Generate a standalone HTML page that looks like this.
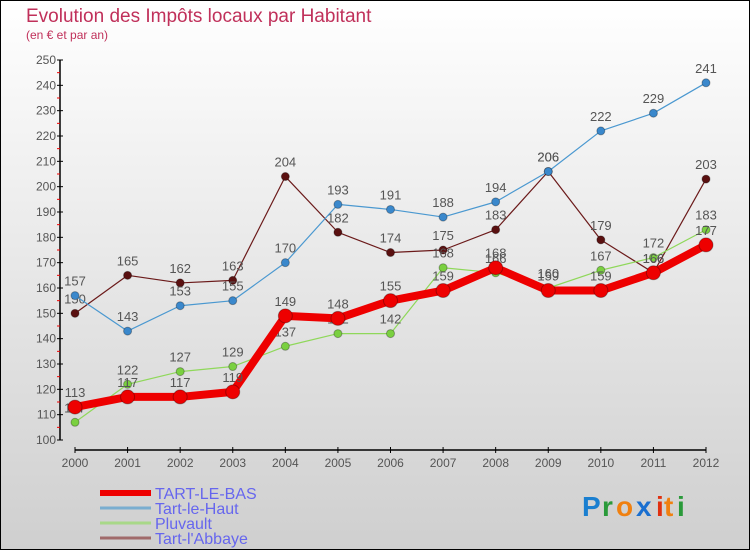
<!DOCTYPE html>
<html><head><meta charset="utf-8"><style>
body{margin:0}
#c{width:750px;height:550px;position:relative;box-sizing:border-box;border:1px solid #000;background:linear-gradient(#ffffff,#cfcfcf);overflow:hidden;font-family:"Liberation Sans",sans-serif}
</style></head><body>
<div id="c">
<svg id="s" width="750" height="550" style="position:absolute;left:-1px;top:-1px" font-family="Liberation Sans, sans-serif">
<text x="26" y="22" font-size="19" fill="#c0305a">Evolution des Impôts locaux par Habitant</text>
<text x="26" y="39" font-size="12" fill="#c0305a">(en € et par an)</text>
<g id="axes"></g><g id="series"></g><g id="legend"></g>
<g font-size="28" font-weight="bold">
<text x="582" y="516" fill="#1a7fd0">P</text><text x="602" y="516" fill="#2a9a3a">r</text><text x="616" y="516" fill="#f08010">o</text><text x="636" y="516" fill="#1a6fd0">x</text><text x="656" y="516" fill="#e03010">i</text><text x="664" y="516" fill="#f08010">t</text><text x="677" y="516" fill="#2a9a3a">i</text>
</g>
</svg>
</div>
<script>
const years=[2000,2001,2002,2003,2004,2005,2006,2007,2008,2009,2010,2011,2012];
const yTicks=[100,110,120,130,140,150,160,170,180,190,200,210,220,230,240,250];
const seriesNames=["TART-LE-BAS","Tart-le-Haut","Pluvault","Tart-l'Abbaye"];
const tartLeBas=[113,117,117,119,149,148,155,159,168,159,159,166,177];
const tartLeHaut=[157,143,153,155,170,193,191,188,194,206,222,229,241];
const pluvault=[107,122,127,129,137,142,142,168,166,160,167,172,183];
const tartAbbaye=[150,165,162,163,204,182,174,175,183,206,179,166,203];
const NS="http://www.w3.org/2000/svg";
function X(i){return 75+i*(706-75)/(years.length-1);}
function Y(v){return 440-(v-100)*(380/150);}
function mk(tag,attrs,parent){const e=document.createElementNS(NS,tag);for(const k in attrs)e.setAttribute(k,attrs[k]);parent.appendChild(e);return e;}
const ax=document.getElementById('axes');
const yl=mk('line',{x1:60,y1:Y(250),x2:60,y2:440,stroke:'#000','stroke-width':1.5},ax);


for(let v=105;v<250;v+=10){mk('line',{x1:57,x2:60,y1:Y(v),y2:Y(v),stroke:'#e00','stroke-width':1},ax);}
yTicks.forEach(v=>{mk('line',{x1:57,x2:63,y1:Y(v),y2:Y(v),stroke:'#000'},ax);
const t=mk('text',{x:56,y:Y(v)+4,'font-size':12,'text-anchor':'end',fill:'#555'},ax);t.textContent=v;

});
const xl=mk('line',{x1:X(0),y1:450,x2:X(12),y2:450,stroke:'#000','stroke-width':1.5},ax);


years.forEach((y,i)=>{mk('line',{x1:X(i),x2:X(i),y1:447,y2:453,stroke:'#000'},ax);
const t=mk('text',{x:X(i),y:467,'font-size':12,'text-anchor':'middle',fill:'#555'},ax);t.textContent=y;

});
const sg=document.getElementById('series');
const defs=[[tartAbbaye,'#6b1a1a',1.2,4,'tart-l-abbaye'],[pluvault,'#8fd85a',1.2,4,'pluvault'],[tartLeHaut,'#4a98d0',1.2,4,'tart-le-haut'],[tartLeBas,'#ee0000',8,7,'tart-le-bas']];
const ptFill={'tart-l-abbaye':'#5a1010','pluvault':'#7ad040','tart-le-haut':'#3a88cc','tart-le-bas':'#ee0000'};
defs.forEach(([d,c,w,r,n])=>{
const g=mk('g',{},sg);


const pl=mk('polyline',{points:d.map((v,i)=>X(i)+','+Y(v)).join(' '),fill:'none',stroke:c,'stroke-width':w,'stroke-linejoin':'round'},g);


d.forEach((v,i)=>{const p=mk('circle',{cx:X(i),cy:Y(v),r:r,fill:ptFill[n],stroke:'rgba(0,0,0,0.3)','stroke-width':1},g);


const t=mk('text',{x:X(i),y:Y(v)-10,'font-size':13,'text-anchor':'middle',fill:'#555'},g);t.textContent=v;

});
});
const lg=document.getElementById('legend');
const lc=[['#ee0000',6],['#7aaed0',3],['#a8d888',3],['#a06a6a',3]];
seriesNames.forEach((nm,i)=>{const y=493+i*15;
const l=mk('line',{x1:100,x2:151,y1:y,y2:y,stroke:lc[i][0],'stroke-width':lc[i][1]},lg);


const t=mk('text',{x:155,y:y+6,'font-size':16,fill:'#6666ee'},lg);t.textContent=nm;

});
</script>
</body></html>
